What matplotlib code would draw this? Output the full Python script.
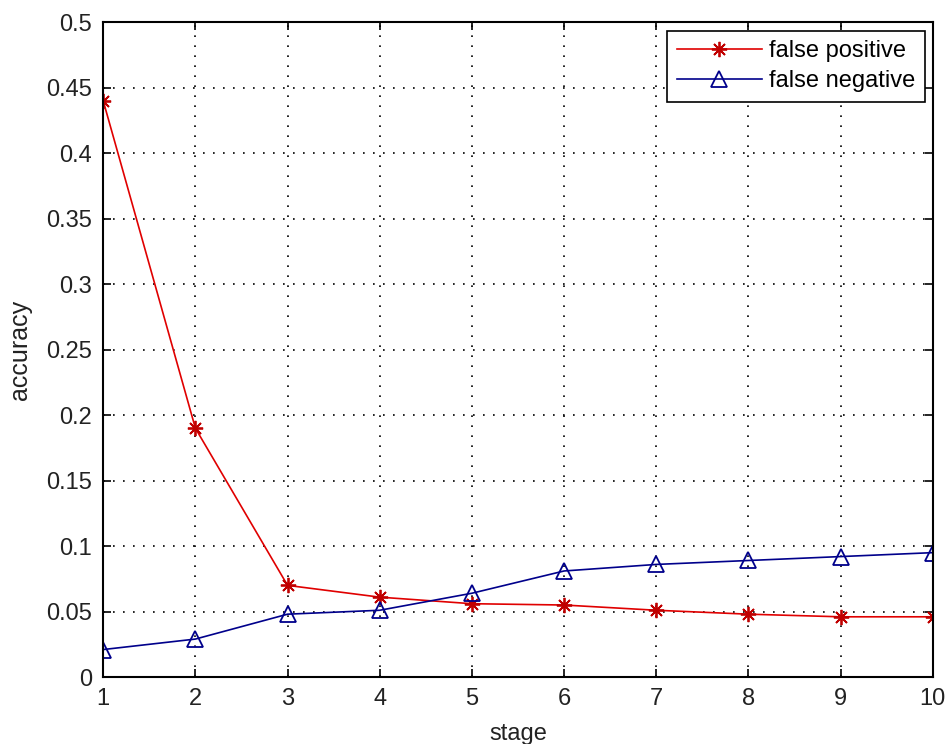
import matplotlib
matplotlib.use("Agg")
from matplotlib import pyplot as plt
import numpy as np

plt.rcParams['font.family'] = ['Liberation Sans', 'DejaVu Sans']

stage = [1, 2, 3, 4, 5, 6, 7, 8, 9, 10]
false_positive = [0.440, 0.190, 0.070, 0.061, 0.056, 0.055, 0.051, 0.048, 0.046, 0.046]
false_negative = [0.021, 0.029, 0.048, 0.051, 0.064, 0.081, 0.086, 0.089, 0.092, 0.095]
ytick_labels = ['0', '0.05', '0.1', '0.15', '0.2', '0.25', '0.3', '0.35', '0.4', '0.45', '0.5']

fig = plt.figure(figsize=(9.47, 7.44), dpi=100)
ax = fig.add_axes([0.109, 0.090, 0.876, 0.880])

# matlab style '*' marker = plus + cross
ax.plot(stage, false_positive, color='#e00000', marker=(8, 2, 0), markersize=11,
        markeredgecolor='#c00000', markeredgewidth=1.3, linewidth=1.2,
        label='false positive')
ax.plot(stage, false_negative, color='#00008b', marker='^', markersize=12,
        markerfacecolor='none', markeredgewidth=1.3, linewidth=1.2,
        label='false negative')

ax.set_xlim(1, 10)
ax.set_ylim(0, 0.5)
ax.set_xticks(stage)
ax.set_xticklabels([str(s) for s in stage])
ax.set_yticks(np.linspace(0, 0.5, 11))
ax.set_yticklabels(ytick_labels)
ax.tick_params(direction='in', top=True, right=True, labelsize=17, length=6,
               width=1.2, pad=8, labelcolor='#222222')
ax.grid(True, color='black', linestyle=(0, (1, 5)), linewidth=1.2)
for s in ax.spines.values():
    s.set_linewidth(1.5)

ax.set_xlabel('stage', fontsize=17, labelpad=9, color='#222222')
ax.set_ylabel('accuracy', fontsize=18, labelpad=10, color='#222222')

leg = ax.legend(loc='upper right', fontsize=17, fancybox=False, framealpha=1,
                edgecolor='black', borderaxespad=0.35, handlelength=3.6,
                handletextpad=0.3, borderpad=0.4, labelspacing=0.35)
leg.get_frame().set_linewidth(1.2)

fig.savefig('out.png', dpi=100)
